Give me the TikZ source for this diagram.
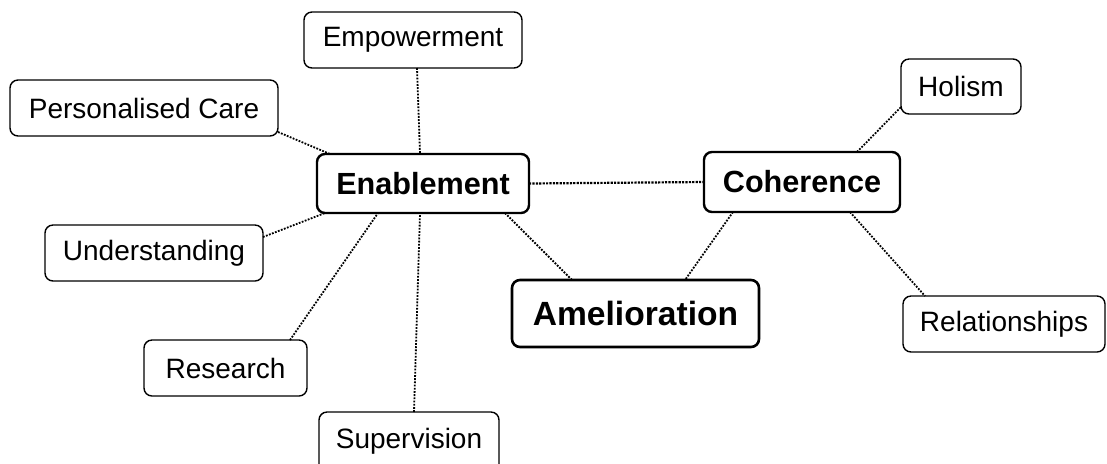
\documentclass[tikz,border=0pt]{standalone}
\usepackage{fontspec}
\setmainfont{Liberation Sans}
\begin{document}
\begin{tikzpicture}[x=0.5pt,y=-0.5pt,
  idea/.style={draw=black, line width=0.7pt, rounded corners=4pt, fill=white,
    inner sep=0pt, outer sep=0pt, align=center, font=\fontsize{14}{16}\selectfont},
  theme/.style={idea, line width=1.2pt, font=\bfseries\fontsize{15.3}{18}\selectfont},
  link/.style={line width=0.9pt, dash pattern=on 0.9pt off 0.7pt},
  mainlink/.style={line width=1.1pt, dash pattern=on 1.1pt off 0.6pt}]
\useasboundingbox (0,0) rectangle (1107,463);

% main themes
\node[theme, minimum width=106pt, minimum height=29.5pt] (enab) at (423,183.5) {Enablement};
\node[theme, minimum width=98pt, minimum height=30pt] (coh) at (802,182) {Coherence};
\node[theme, line width=1.3pt, minimum width=123.5pt, minimum height=33.5pt,
  font=\bfseries\fontsize{16.8}{20}\selectfont] (amel) at (635.5,313.5) {Amelioration};

% sub-ideas
\node[idea, minimum width=109pt, minimum height=28pt] (emp) at (413,40) {Empowerment};
\node[idea, minimum width=134pt, minimum height=28pt] (pers) at (144,108) {Personalised Care};
\node[idea, minimum width=109pt, minimum height=28pt] (und) at (154,253) {Understanding};
\node[idea, minimum width=81.5pt, minimum height=28pt] (res) at (225.5,368) {Research};
\node[idea, minimum width=90pt, minimum height=0pt, text height=18pt, text depth=12pt,
  anchor=north] (sup) at (409,412) {Supervision};
\node[idea, minimum width=60pt, minimum height=27.5pt] (hol) at (961,86.5) {Holism};
\node[idea, minimum width=101pt, minimum height=28pt] (rel) at (1004,324) {Relationships};

% connectors
\draw[link] ([xshift=2pt]emp.south) -- ([xshift=-1.5pt]enab.north);
\draw[link] ([yshift=2pt]pers.south east) -- ([xshift=6.5pt]enab.north west);
\draw[link] ([yshift=-6pt]und.north east) -- ([xshift=4pt]enab.south west);
\draw[link] ([xshift=-8.5pt]res.north east) -- ([xshift=-22.5pt]enab.south);
\draw[link] ([xshift=2.5pt]sup.north) -- ([xshift=-1.5pt]enab.south);
\draw[link] ([xshift=-12pt]enab.south east) -- ([xshift=30pt]amel.north west);
\draw[mainlink] (enab.east) -- (coh.west);
\draw[link] ([xshift=14.5pt]coh.south west) -- ([xshift=-37pt]amel.north east);
\draw[link] ([xshift=-21.5pt]coh.north east) -- ([yshift=3.5pt]hol.south west);
\draw[link] ([xshift=-25pt]coh.south east) -- ([xshift=11pt]rel.north west);
\end{tikzpicture}
\end{document}
